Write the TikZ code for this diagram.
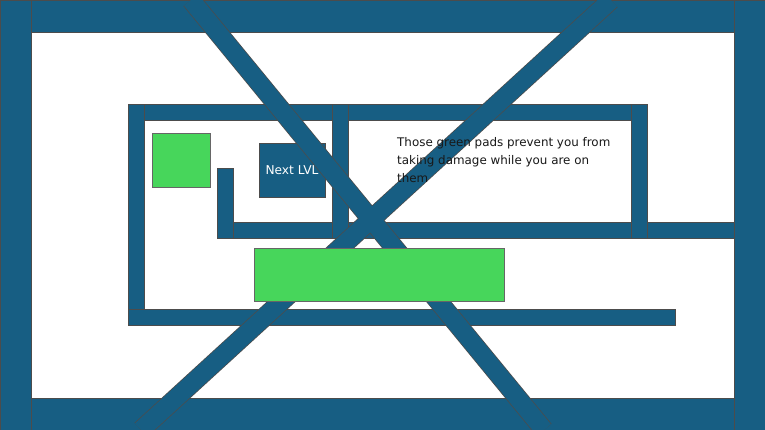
\documentclass[tikz,border=0pt]{standalone}
\usepackage{fontspec}
\setmainfont{Liberation Sans}
\newfontfamily\txtfont{DejaVu Sans}
\begin{document}
\begin{tikzpicture}[x=1pt,y=-1pt,
 wall/.style={fill=wallc,draw=black!70,line width=0.4pt},
 pad/.style={fill=padc,draw=black!60,line width=0.5pt},
 diag/.style={draw=black!70,line width=19.5pt,line cap=butt},
 diagin/.style={draw=wallc,line width=18pt,line cap=butt}]
\definecolor{wallc}{HTML}{175E83}
\definecolor{padc}{HTML}{47D65B}
\useasboundingbox (0,0) rectangle (765,430);
\fill[white] (0,0) rectangle (765,430);
% outer frame
\draw[wall] (0,0) rectangle (765,32);
\draw[wall] (0,398) rectangle (765,430);
\draw[wall] (0,0) rectangle (31,430);
\draw[wall] (734,0) rectangle (765,430);
% inner walls
\draw[wall] (128,104) rectangle (647,120);
\draw[wall] (128,104) rectangle (144,325);
\draw[wall] (128,309) rectangle (675,325);
\draw[wall] (217,222) rectangle (734,238);
\draw[wall] (217,168) rectangle (233,238);
\draw[wall] (332,104) rectangle (348,238);
\draw[wall] (631,104) rectangle (647,238);
\draw[pad] (152,133) rectangle (210,187);
\node[wall,minimum width=66pt,minimum height=54pt,inner sep=0pt,text=white,font=\txtfont\fontsize{12.2}{13}\selectfont] (next) at (292,170) {Next LVL};
% diagonals
\coordinate (a1) at (191,0); \coordinate (a2) at (544,430);
\coordinate (b1) at (611,0); \coordinate (b2) at (141,430);
\draw[diag] (a1) -- (a2); \draw[diag] (b1) -- (b2);
\draw[diagin] (a1) -- (a2); \draw[diagin] (b1) -- (b2);
\node[anchor=north west,align=left,inner sep=0pt,text=black!90,font=\txtfont\fontsize{11.9}{18}\selectfont] (txt) at (397,137) {Those green pads prevent you from\\taking damage while you are on\\them};
\draw[pad] (254,248) rectangle (504,301);
\end{tikzpicture}
\end{document}
